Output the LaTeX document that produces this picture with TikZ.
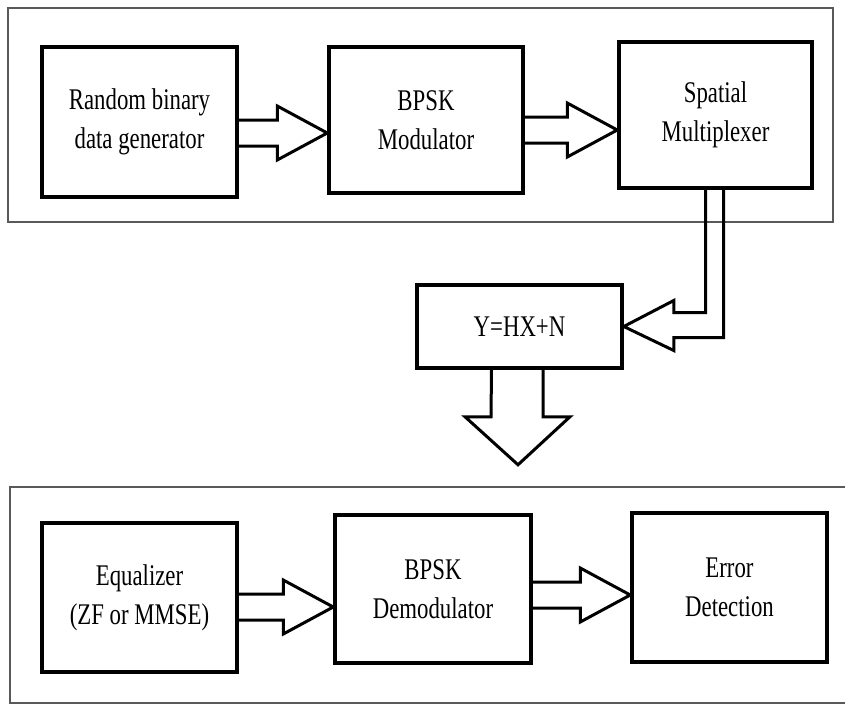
\documentclass[tikz,border=0pt]{standalone}
\usepackage{fontspec}
\setmainfont{Liberation Serif}[FakeStretch=0.76]
\usetikzlibrary{calc}
\def\fatarrow[#1](#2)(#3)(#4){\coordinate (tip) at ($(#3.west)+(0,#4)$); \draw[#1] ($(#2.east |- tip)+(0,-13)$) -- ($(tip)+(-50,-13)$) -- ($(tip)+(-50,-27)$) -- (tip) -- ($(tip)+(-50,27)$) -- ($(tip)+(-50,13)$) -- ($(#2.east |- tip)+(0,13)$);}
\tikzset{
	block/.style={draw, line width=3.5pt, inner sep=0pt, align=center, font=\fontsize{30}{39}\selectfont},
	frame/.style={draw=black!65, line width=1.5pt},
	fat/.style={line width=3pt, line join=miter}
}

\begin{document}
\begin{tikzpicture}[x=1pt, y=-1pt]
			%%%%% START %%%%%
			
			\useasboundingbox (0, 0) rectangle (845, 705);
			
			\draw[frame] (8, 8) rectangle (833, 222);
			\draw[frame] (845, 487) -| (10, 703) -- (845, 703);
			
			\node[block, minimum width=195, minimum height=150] (gen) at (139.5, 122) {Random binary\\data generator};
			\node[block, minimum width=194, minimum height=146] (mod) at (426, 120) {BPSK\\Modulator};
			\node[block, minimum width=193, minimum height=146] (mux) at (715.5, 115) {Spatial\\Multiplexer};
			
			\node[block, minimum width=205, minimum height=83] (chan) at (519.5, 326.5) {Y=HX+N};
			
			\node[block, minimum width=195, minimum height=149] (eq) at (139.5, 597.5) {Equalizer\\(ZF or MMSE)};
			\node[block, minimum width=196, minimum height=148] (demod) at (433, 589) {BPSK\\Demodulator};
			\node[block, minimum width=195, minimum height=149] (err) at (729.5, 587.5) {Error\\Detection};
			
			\fatarrow[fat](gen)(mod)(13);
			\fatarrow[fat](mod)(mux)(15);
			\fatarrow[fat](eq)(demod)(18);
			\fatarrow[fat](demod)(err)(7.5);
			
			\draw[fat] ($(mux.south)+(-10, 0)$) |- ($(chan.east)+(50, -14)$) -- ($(chan.east)+(50, -26)$) -- (chan.east) -- ($(chan.east)+(50, 24)$) -- ($(chan.east)+(50, 11)$) -| ($(mux.south)+(8, 0)$);
			
			\coordinate (down) at ($(chan.south)+(-1.5, 95)$);
			\draw[fat] ($(chan.south)+(-28, 0)$) -- ($(down)+(-27, -48)$) -- ($(down)+(-53, -48)$) -- (down) -- ($(down)+(52, -48)$) -- ($(down)+(25, -48)$) -- ($(chan.south)+(23.5, 0)$);
			
			%%%%% END %%%%%
		\end{tikzpicture}
\end{document}
